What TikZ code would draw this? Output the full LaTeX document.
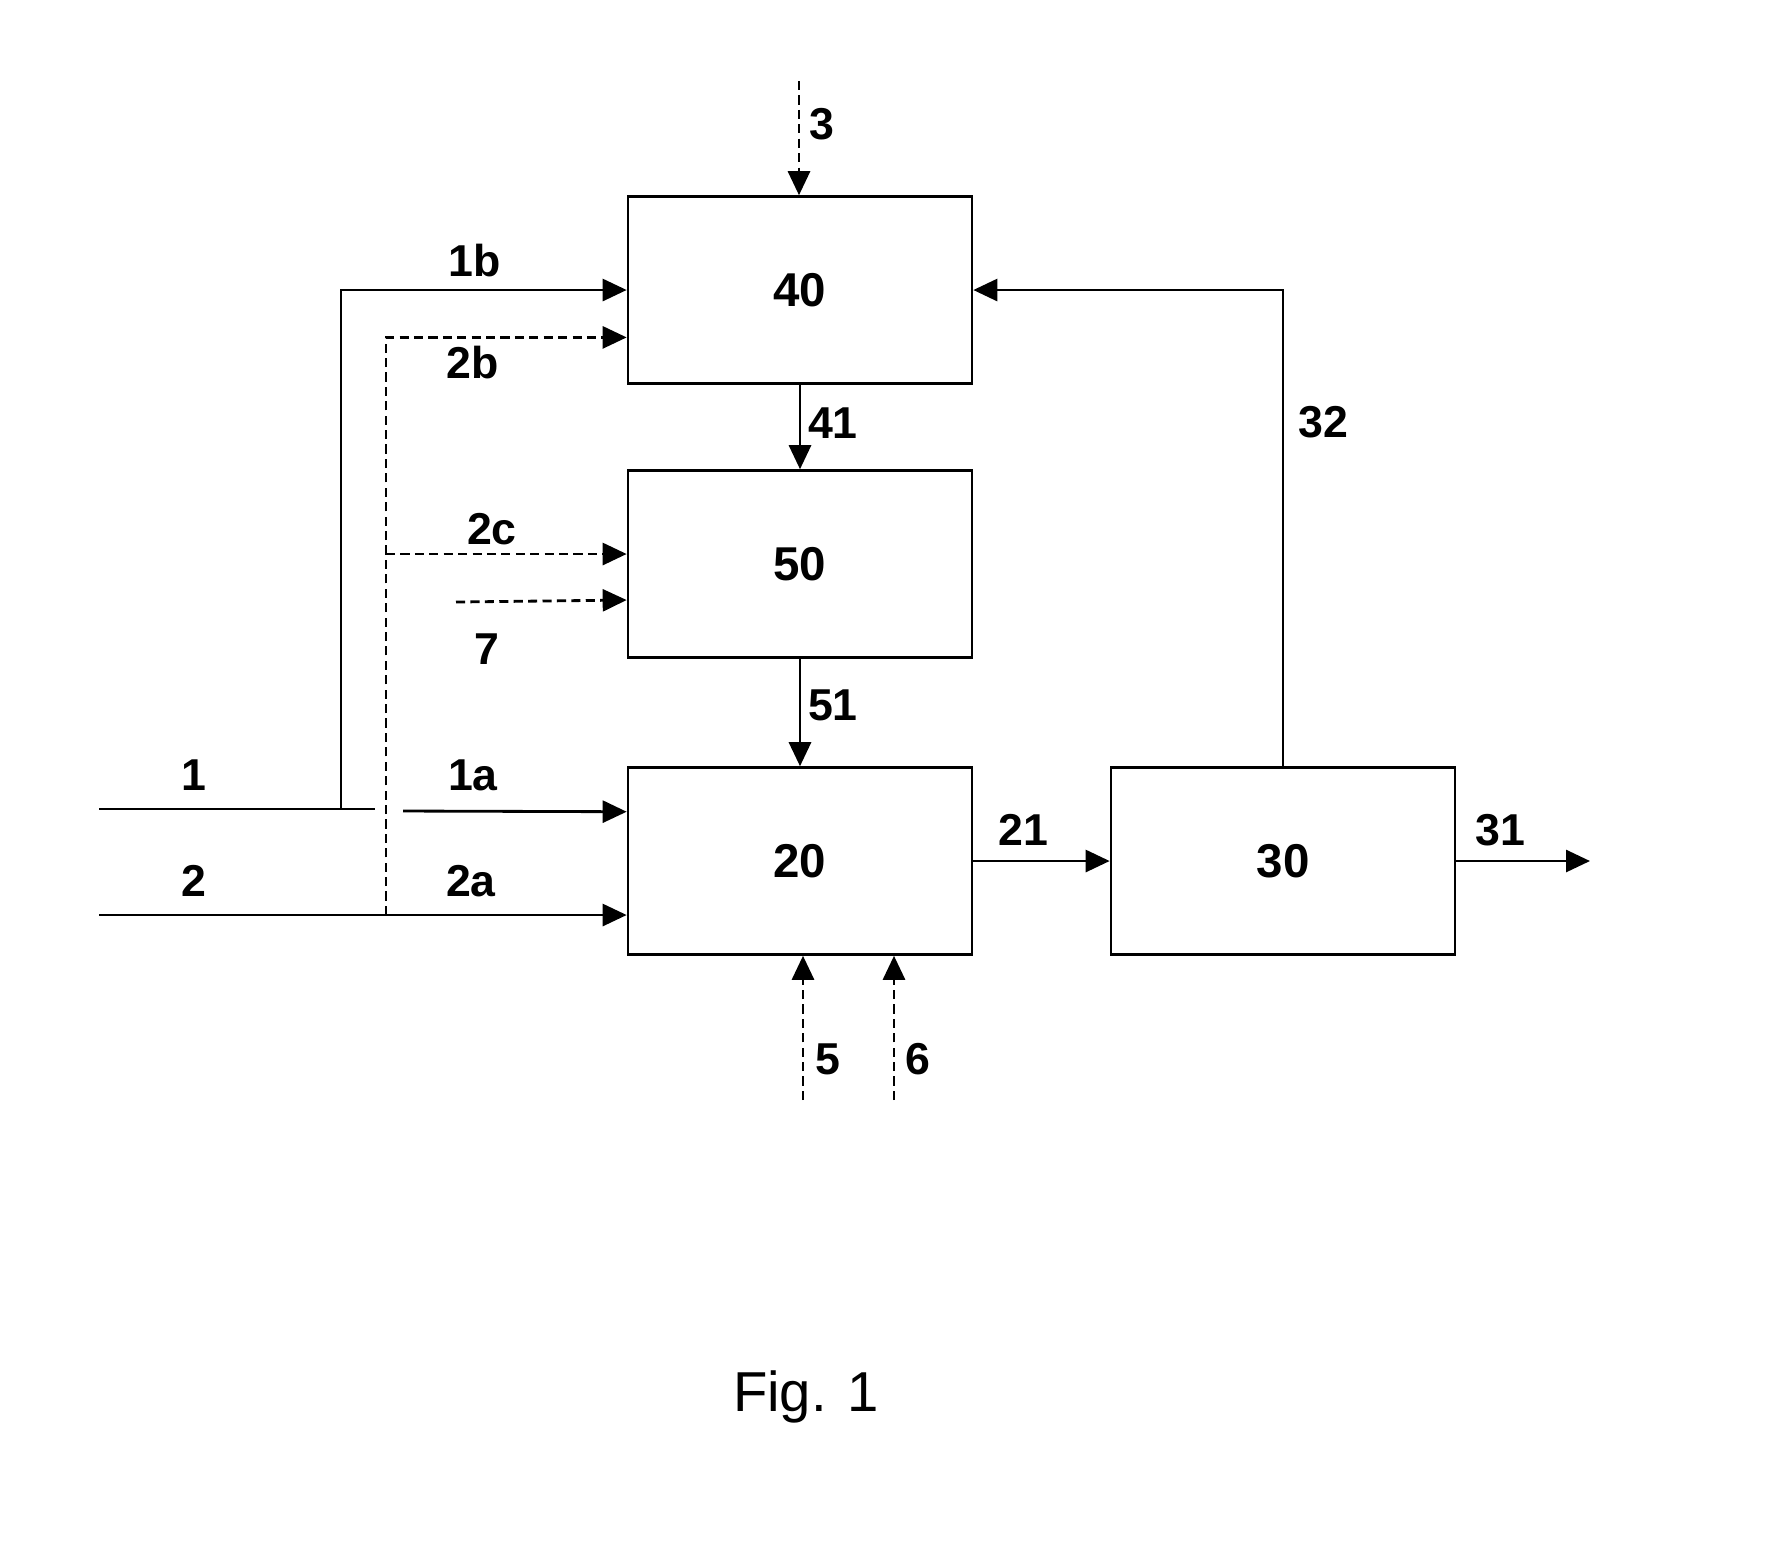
\documentclass[tikz,border=0pt]{standalone}
\usepackage{fontspec}
\setmainfont{Liberation Sans}
\usetikzlibrary{arrows.meta,calc}

\tikzset{
  unit/.style={draw, line width=0.7pt, minimum width=3.44cm, minimum height=1.87cm,
    inner sep=0pt, font=\fontsize{13.5}{16}\selectfont\bfseries},
  stream/.style={line width=0.8pt, -{Triangle[length=2.4mm,width=2.2mm]}},
  feed/.style={stream, dash pattern=on 2.6pt off 1.5pt},
  tag/.style={font=\fontsize{12.7}{15}\selectfont\bfseries, inner sep=0pt},
}

\begin{document}
\begin{tikzpicture}[x=0.01cm,y=-0.01cm]
  \useasboundingbox (0,0) rectangle (1766,1556);

  % units
  \node[unit] (b40) at (800,290) {40};
  \node[unit] (b50) at (800,564) {50};
  \node[unit] (b20) at (800,861) {20};
  \node[unit] (b30) at (1283,861) {30};

  % free ends
  \coordinate (in1) at (99,809);
  \coordinate (cut1) at (375,809);
  \coordinate (j1) at (341,809);
  \coordinate (s1a) at (403,811);
  \coordinate (in2) at (99,915);
  \coordinate (j2) at (386,915);
  \coordinate (j3) at (386,554);
  \coordinate (s7) at (456,602);
  \coordinate (s3) at (799,81);
  \coordinate (s5) at (803,1100);
  \coordinate (s6) at (894,1100);
  \coordinate (out31) at (1590,861);

  % stream 1 and its branches
  \draw[line width=0.8pt] (in1) -- (cut1);
  \draw[stream] (j1) |- (b40.west);
  \draw[stream] (s1a) -- ($(b20.south west)!0.76!(b20.north west)$);

  % stream 2 and its branches
  \draw[stream] (in2) -- (in2 -| b20.west);
  \draw[feed] (j2) |- ($(b40.south west)!0.25!(b40.north west)$);
  \draw[feed] (j3) -- (j3 -| b50.west);

  % feeds 7, 3, 5, 6
  \draw[feed] (s7) -- ($(b50.south west)!0.31!(b50.north west)$);
  \draw[feed] (s3) -- (s3 |- b40.north);
  \draw[feed] (s5) -- (s5 |- b20.south);
  \draw[feed] (s6) -- (s6 |- b20.south);

  % between units
  \draw[stream] (b40.south) -- (b50.north);
  \draw[stream] (b50.south) -- (b20.north);
  \draw[stream] (b20.east) -- (b30.west);
  \draw[stream] (b30.east) -- (out31);
  \draw[stream] (b30.north) |- (b40.east);

  % labels
  \node[tag] (l1) at (194,775) {1};
  \node[tag] (l1a) at (473,775) {1a};
  \node[tag] (l1b) at (475,261) {1b};
  \node[tag] (l2) at (194,881) {2};
  \node[tag] (l2a) at (471,881) {2a};
  \node[tag] (l2b) at (473,363) {2b};
  \node[tag] (l2c) at (492,529) {2c};
  \node[tag] (l3) at (822,124) {3};
  \node[tag] (l5) at (828,1059) {5};
  \node[tag] (l6) at (918,1059) {6};
  \node[tag] (l7) at (487,649) {7};
  \node[tag] (l21) at (1023,830) {21};
  \node[tag] (l31) at (1500,830) {31};
  \node[tag] (l32) at (1323,422) {32};
  \node[tag] (l41) at (833,423) {41};
  \node[tag] (l51) at (833,705) {51};

  \node[font=\fontsize{16}{19}\selectfont] (fig) at (806,1397) {Fig. 1};
\end{tikzpicture}
\end{document}
